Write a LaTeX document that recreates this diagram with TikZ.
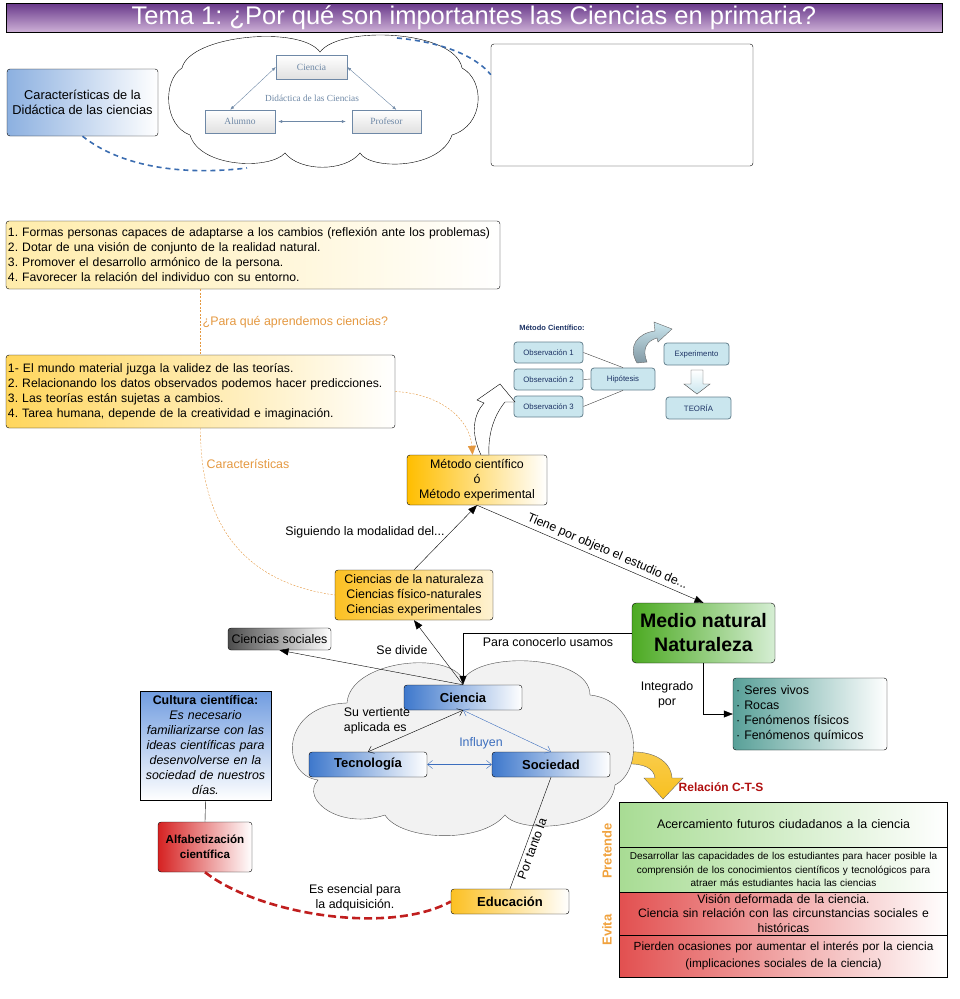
\documentclass[tikz,border=0pt]{standalone}
\usepackage{fontspec}
\setmainfont{Liberation Sans}
\newfontfamily\diagserif{Liberation Serif}
\usetikzlibrary{arrows.meta}
\frenchspacing

\definecolor{titletop}{RGB}{104,56,138}
\definecolor{titlebot}{RGB}{205,176,214}
\definecolor{didacblue}{RGB}{140,176,224}
\definecolor{dashblue}{RGB}{58,108,176}
\definecolor{listone}{RGB}{255,236,170}
\definecolor{listtwo}{RGB}{255,214,92}
\definecolor{linkorange}{RGB}{228,152,64}
\definecolor{metyellow}{RGB}{255,190,0}
\definecolor{natyellow}{RGB}{252,192,34}
\definecolor{medgreen}{RGB}{76,170,34}
\definecolor{medlight}{RGB}{214,238,212}
\definecolor{serteal}{RGB}{88,160,152}
\definecolor{cieblue}{RGB}{62,120,204}
\definecolor{inflblue}{RGB}{60,110,190}
\definecolor{cultblue}{RGB}{112,156,224}
\definecolor{alfred}{RGB}{214,34,34}
\definecolor{dashred}{RGB}{192,30,30}
\definecolor{cellgreen}{RGB}{168,220,148}
\definecolor{cellred}{RGB}{226,80,80}
\definecolor{ctsred}{RGB}{176,16,16}
\definecolor{tagorange}{RGB}{240,162,62}
\definecolor{diaggray}{RGB}{110,136,166}
\definecolor{obsfill}{RGB}{202,230,238}
\definecolor{obsdraw}{RGB}{100,128,142}
\definecolor{obstext}{RGB}{28,50,100}
\definecolor{arrowyellow}{RGB}{248,192,32}

\begin{document}
\begin{tikzpicture}[x=1pt, y=-1pt, >={Triangle[length=9pt,width=7pt]},
  every node/.style={font=\fontsize{12.4}{15}\selectfont},
  box/.style={draw, rounded corners=3pt, inner sep=2pt, align=center},
  bluebox/.style={box, left color=cieblue, right color=white, minimum width=118pt, minimum height=25pt, font=\fontsize{13}{15}\selectfont\bfseries},
  innerbox/.style={draw=diaggray, top color=white, bottom color=black!12, minimum width=70pt, minimum height=23pt, text=diaggray, font=\diagserif\fontsize{9.5}{11}\selectfont},
  obsbox/.style={draw=obsdraw, fill=obsfill, rounded corners=3pt, line width=0.8pt, minimum width=69pt, minimum height=21pt, text=obstext, font=\fontsize{7.8}{9}\selectfont},
  cell/.style={draw, minimum width=328pt, inner sep=0pt, text width=328pt, align=center},
  lbl/.style={inner sep=1pt, align=center},
  orangelink/.style={draw=linkorange, dash pattern=on 2pt off 1.5pt},
  bluedash/.style={draw=dashblue, line width=1.6pt, dash pattern=on 5pt off 4pt},
  tagtext/.style={rotate=90, text=tagorange, font=\fontsize{13}{15}\selectfont\bfseries}
]
\useasboundingbox (0,0) rectangle (959,999);

% Title bar
\node[draw, top color=titletop, bottom color=titlebot, minimum width=936pt, minimum height=29pt, inner sep=0pt,
  text=white, font=\fontsize{25.5}{28}\selectfont] (title) at (474,17.5)
  {Tema 1: ¿Por qué son importantes las Ciencias en primaria?};

% Didactica
\node[box, left color=didacblue, right color=white, minimum width=151pt, minimum height=67pt,
  font=\fontsize{12.8}{15}\selectfont] (didac) at (82.5,102.5) {Características de la\\Didáctica de las ciencias};
\node[box, minimum width=262pt, minimum height=122pt] (empty) at (622,105) {};

% Top cloud with the triangle
\draw[fill=white] (182,68) .. controls (190,35) and (300,25) .. (320,52)
  .. controls (340,25) and (455,30) .. (462,68)
  .. controls (485,80) and (485,125) .. (452,135)
  .. controls (440,170) and (370,170) .. (360,153)
  .. controls (345,172) and (300,172) .. (285,153)
  .. controls (270,170) and (200,168) .. (190,135)
  .. controls (163,125) and (163,80) .. (182,68) -- cycle;
\coordinate (cloudne) at (397,38);
\coordinate (cloudsw) at (247,168);
\node[innerbox, minimum width=71pt, minimum height=24pt] (iciencia) at (311.5,67) {Ciencia};
\node[innerbox] (ialumno) at (240,121.5) {Alumno};
\node[innerbox, minimum width=69pt] (iprofesor) at (386.5,121.5) {Profesor};
\node[text=diaggray, font=\diagserif\fontsize{9.3}{11}\selectfont] (idid) at (312,98) {Didáctica de las Ciencias};
\draw[{Latex[length=4pt]}-{Latex[length=4pt]}, diaggray] (iciencia.west) -- (ialumno.130);
\draw[{Latex[length=4pt]}-{Latex[length=4pt]}, diaggray] (iciencia.east) -- (iprofesor.50);
\draw[{Latex[length=4pt]}-{Latex[length=4pt]}, diaggray, shorten <=3pt, shorten >=6pt] (ialumno.east) -- (iprofesor.west);

% Blue dashed links
\draw[bluedash] (didac.south) .. controls (120,166) and (180,176) .. (cloudsw);
\draw[bluedash] (cloudne) .. controls (440,42) and (475,55) .. (empty.167);

% Lists
\node[box, left color=listone, right color=white, minimum width=494pt, minimum height=68pt,
  text width=490pt, align=left, font=\fontsize{12.2}{15}\selectfont] (fines) at (253,255)
  {1. Formas personas capaces de adaptarse a los cambios (reflexión ante los problemas)\\
   2. Dotar de una visión de conjunto de la realidad natural.\\
   3. Promover el desarrollo armónico de la persona.\\
   4. Favorecer la relación del individuo con su entorno.};
\node[box, left color=listtwo, right color=white, minimum width=389pt, minimum height=73pt,
  text width=385pt, align=left, font=\fontsize{12.2}{15}\selectfont] (rasgos) at (200.5,391.5)
  {1- El mundo material juzga la validez de las teorías.\\
   2. Relacionando los datos observados podemos hacer predicciones.\\
   3. Las teorías están sujetas a cambios.\\
   4. Tarea humana, depende de la creatividad e imaginación.};

% Metodo cientifico diagram
\node[text=obstext, font=\fontsize{7.5}{9}\selectfont\bfseries] (mctitle) at (552,328) {Método Científico:};
\node[obsbox] (obsone) at (548.5,352.5) {Observación 1};
\node[obsbox] (obstwo) at (548.5,379.5) {Observación 2};
\node[obsbox] (obsthree) at (548.5,406.5) {Observación 3};
\node[obsbox, minimum width=64pt, minimum height=22pt] (hipo) at (623,379) {Hipótesis};
\node[obsbox, minimum width=65pt, minimum height=22pt] (exper) at (696.5,354) {Experimento};
\node[obsbox, minimum width=65pt, minimum height=22pt] (teoria) at (698.5,408) {TEORÍA};
\draw[black!75] (obsone.east) -- (hipo.north);
\draw[black!75] (obstwo.east) -- (hipo.west);
\draw[black!75] (obsthree.east) -- (hipo.south);
% curved arrow to Experimento
\draw[draw=black!60, top color=obsfill, bottom color=obsdraw!80]
  (637,363) .. controls (627,346) and (638,333) .. (655,331) -- (654,322) -- (672,329)
  -- (658,342) -- (657,338) .. controls (646,341) and (642,350) .. (647,362) -- cycle;
% down arrow to TEORIA
\draw[draw=black!70, top color=white, bottom color=obsfill] (691,370) -- (703,370) -- (703,384) -- (710,384) -- (697,394)
  -- (684,384) -- (691,384) -- cycle;

% Metodo / ciencias de la naturaleza
\node[box, left color=metyellow, right color=white, minimum width=140pt, minimum height=50pt] (metodo) at (477,480)
  {Método científico\\ó\\Método experimental};
\node[box, left color=natyellow, right color=natyellow!20, minimum width=158pt, minimum height=50pt] (cnat) at (414,595)
  {Ciencias de la naturaleza\\Ciencias físico-naturales\\Ciencias experimentales};
% hollow arrow up to the diagram
\draw[fill=white] (481,455) .. controls (470,432) and (474,414) .. (484,403) -- (477,400) -- (500,384)
  -- (515,402) -- (505,402) .. controls (492,418) and (488,438) .. (489,455) -- cycle;

% Orange links
\draw[orangelink] (fines.south -| rasgos.north) -- (rasgos.north)
  node[midway, right, text=linkorange, inner sep=2pt] {¿Para qué aprendemos ciencias?};
\draw[orangelink, -{Triangle[length=9pt,width=8pt]}] (rasgos.east) .. controls (442,394) and (470,420) .. (metodo.100);
\draw[orangelink] (rasgos.south) .. controls (200,520) and (240,582) .. (cnat.west);
\node[text=linkorange, inner sep=0pt] (charlbl) at (248,464) {Características};

\draw[->] (cnat.north) -- (metodo.south);
\node[lbl] (siglbl) at (365,532) {Siguiendo la modalidad del...};

% Medio natural
\node[box, left color=medgreen, right color=medlight, rounded corners=4pt, minimum width=143pt, minimum height=60pt,
  font=\fontsize{19.5}{24}\selectfont\bfseries] (medio) at (703.5,633) {Medio natural\\Naturaleza};
\draw[->] (metodo.south) -- (medio.north)
  node[pos=0.56, above, sloped, inner sep=3pt] {Tiene por objeto el estudio de...};
\node[box, left color=serteal, right color=white, minimum width=154pt, minimum height=72pt,
  text width=148pt, align=left] (seres) at (810,714)
  {· Seres vivos\\· Rocas\\· Fenómenos físicos\\· Fenómenos químicos};
\draw[->] (medio.south) |- (seres.west);
\node[lbl] (intlbl) at (667,695) {Integrado\\por};

% Yellow arrow and big cloud
\draw[draw=black!60, top color=arrowyellow!80, bottom color=arrowyellow]
  (625,752) .. controls (655,750) and (671,762) .. (672,778) -- (683,778) -- (663,799) -- (644,778)
  -- (655,778) .. controls (654,769) and (645,763) .. (625,764) -- cycle;
\draw[draw=black!70, fill=black!5] (347,703) .. controls (350,660) and (450,650) .. (463,680)
  .. controls (480,650) and (590,655) .. (590,695)
  .. controls (640,700) and (645,770) .. (615,785)
  .. controls (610,830) and (520,835) .. (505,815)
  .. controls (480,845) and (400,840) .. (385,815)
  .. controls (340,830) and (300,800) .. (318,780)
  .. controls (280,775) and (280,705) .. (347,703) -- cycle;
\node[bluebox] (ciencia) at (463,697.5) {Ciencia};
\node[bluebox] (tecno) at (368,764.5) {Tecnología};
\node[bluebox] (socied) at (551,764.5) {Sociedad};
\draw[{Straight Barb[length=5pt,width=8pt]}-{Straight Barb[length=5pt,width=8pt]}] (ciencia.south) -- (tecno.north);
\draw[inflblue, {Straight Barb[length=5pt,width=8pt]}-{Straight Barb[length=5pt,width=8pt]}] (ciencia.south) -- (socied.north);
\draw[inflblue, {Straight Barb[length=5pt,width=8pt]}-{Straight Barb[length=5pt,width=8pt]}] (tecno.east) -- (socied.west);
\node[lbl, align=left] (vertlbl) at (377,721) {Su vertiente\\aplicada es};
\node[lbl, text=inflblue] (inflbl) at (481,743) {Influyen};

% Ciencia links
\node[box, left color=black!70, right color=white, minimum width=103pt, minimum height=22pt] (csoc) at (279.5,639) {Ciencias sociales};
\draw[->] (medio.west) -| (ciencia.north);
\node[lbl] (paralbl) at (548,642) {Para conocerlo usamos};
\draw[->] (ciencia.north) -- (csoc.south);
\draw[->] (ciencia.north) -- (cnat.south);
\node[lbl] (divlbl) at (402,650) {Se divide};

% Educacion, cultura
\node[bluebox, left color=natyellow, right color=white] (educ) at (510,901.5) {Educación};
\draw (socied.south) -- (educ.north) node[pos=0.62, below, sloped, inner sep=2pt] {Por tanto la};
\node[draw, top color=cultblue, bottom color=white, minimum width=131pt, minimum height=109pt, inner sep=1pt,
  text width=128pt, align=center] (cultura) at (205.5,745.5)
  {\textbf{Cultura científica:}\\\itshape Es necesario\\familiarizarse con las\\ideas científicas para\\desenvolverse en la\\sociedad de nuestros\\días.};
\node[box, left color=alfred, right color=white, minimum width=94pt, minimum height=50pt,
  font=\fontsize{11.6}{15}\selectfont\bfseries] (alfab) at (205,847) {Alfabetización\\científica};
\draw (cultura.south) -- (alfab.north);
\draw[draw=dashred, line width=2.6pt, dash pattern=on 8pt off 4pt] (alfab.south) .. controls (260,915) and (390,935) .. (educ.west);
\node[lbl] (esenlbl) at (355,898) {Es esencial para\\la adquisición.};

% Relacion C-T-S table
\node[text=ctsred, font=\fontsize{12}{14}\selectfont\bfseries] (cts) at (721,787) {Relación C-T-S};
\node[cell, left color=cellgreen, right color=white, minimum height=45pt] (rowa) at (783.5,824.5)
  {Acercamiento futuros ciudadanos a la ciencia};
\node[cell, left color=cellgreen, right color=white, minimum height=45pt, font=\fontsize{10}{13.5}\selectfont] (rowb) at (783.5,869.5)
  {Desarrollar las capacidades de los estudiantes para hacer posible la\\comprensión de los conocimientos científicos y tecnológicos para\\atraer más estudiantes hacia las ciencias};
\node[cell, left color=cellred, right color=white, minimum height=43pt, font=\fontsize{12.2}{14.5}\selectfont] (rowc) at (783.5,913.5)
  {Visión deformada de la ciencia.\\Ciencia sin relación con las circunstancias sociales e\\históricas};
\node[cell, left color=cellred, right color=white, minimum height=42pt, font=\fontsize{11.8}{17}\selectfont] (rowd) at (783.5,956)
  {Pierden ocasiones por aumentar el interés por la ciencia\\(implicaciones sociales de la ciencia)};
\node[tagtext] (pretende) at (607,851) {Pretende};
\node[tagtext] (evita) at (607,930) {Evita};

\end{tikzpicture}
\end{document}
